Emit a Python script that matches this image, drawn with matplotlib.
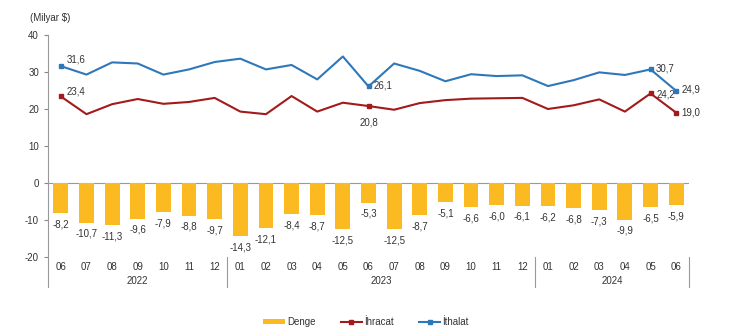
import matplotlib
matplotlib.use("Agg")
import matplotlib.pyplot as plt
from matplotlib.lines import Line2D
from matplotlib.patches import Patch

plt.rcParams['font.family'] = ['Liberation Sans', 'DejaVu Sans']
plt.rcParams['axes.unicode_minus'] = False

months = ["06", "07", "08", "09", "10", "11", "12",
          "01", "02", "03", "04", "05", "06", "07", "08", "09", "10", "11", "12",
          "01", "02", "03", "04", "05", "06"]
years = ["2022", "2023", "2024"]
year_spans = [(0, 6), (7, 18), (19, 24)]

denge = [-8.2, -10.7, -11.3, -9.6, -7.9, -8.8, -9.7,
         -14.3, -12.1, -8.4, -8.7, -12.5, -5.3, -12.5, -8.7, -5.1, -6.6, -6.0, -6.1,
         -6.2, -6.8, -7.3, -9.9, -6.5, -5.9]
ihracat = [23.4, 18.6, 21.3, 22.7, 21.4, 21.9, 23.0,
           19.3, 18.6, 23.5, 19.3, 21.7, 20.8, 19.8, 21.6, 22.4, 22.8, 22.9, 23.0,
           20.0, 21.0, 22.6, 19.3, 24.2, 19.0]
ithalat = [31.6, 29.3, 32.6, 32.3, 29.3, 30.7, 32.7,
           33.6, 30.7, 31.9, 28.0, 34.2, 26.1, 32.3, 30.3, 27.5, 29.4, 28.9, 29.1,
           26.2, 27.8, 29.9, 29.2, 30.7, 24.9]
labeled_idx = [0, 12, 23, 24]

c_bar = "#FBBA22"
c_red = "#A31A1A"
c_blue = "#2E78BA"
c_txt = "#333333"

fig = plt.figure(figsize=(7.3, 3.33), dpi=100)
ax = fig.add_axes([48/730, 1-257/333, (689-48)/730, (257-35)/333])

x = list(range(len(months)))
ax.bar(x, denge, width=0.58, color=c_bar, zorder=2)
ax.plot(x, ihracat, color=c_red, lw=1.5, zorder=3)
ax.plot(x, ithalat, color=c_blue, lw=1.5, zorder=3)
ax.plot([x[i] for i in labeled_idx], [ihracat[i] for i in labeled_idx], 's',
        color=c_red, ms=3.5, zorder=4)
ax.plot([x[i] for i in labeled_idx], [ithalat[i] for i in labeled_idx], 's',
        color=c_blue, ms=3.5, zorder=4)

fmt = lambda v: f"{v:.1f}".replace(".", ",")
fs = 7
for i, v in enumerate(denge):
    ax.annotate(fmt(v), (i, v), xytext=(0, -4.5), textcoords="offset points",
                ha="center", va="top", fontsize=fs, color=c_txt)

for i in labeled_idx:
    ax.annotate(fmt(ithalat[i]), (i, ithalat[i]), xytext=(4, 1), textcoords="offset points",
                ha="left", va="bottom" if i == 0 else "center", fontsize=fs, color=c_txt)
ax.annotate(fmt(ihracat[0]), (0, ihracat[0]), xytext=(4, 0), textcoords="offset points",
            ha="left", va="bottom", fontsize=fs, color=c_txt)
ax.annotate(fmt(ihracat[12]), (12, ihracat[12]), xytext=(0, -8), textcoords="offset points",
            ha="center", va="top", fontsize=fs, color=c_txt)
ax.annotate(fmt(ihracat[23]), (23, ihracat[23]), xytext=(4, -1), textcoords="offset points",
            ha="left", va="center", fontsize=fs, color=c_txt)
ax.annotate(fmt(ihracat[24]), (24, ihracat[24]), xytext=(4, 0), textcoords="offset points",
            ha="left", va="center", fontsize=fs, color=c_txt)

ax.set_xlim(-0.5, len(months) - 0.5)
ax.set_ylim(-20, 40)
ax.set_yticks([-20, -10, 0, 10, 20, 30, 40])
ax.tick_params(axis="y", labelsize=fs, colors="#888888", labelcolor=c_txt, length=3, width=0.8)
ax.set_xticks([])
for s in ["top", "right", "bottom"]:
    ax.spines[s].set_visible(False)
ax.spines["left"].set_color("#999999")
ax.spines["left"].set_bounds(-28.1, 40)
ax.axhline(0, color="#999999", lw=0.8, zorder=1)

for i, m in enumerate(months):
    ax.text(i, -22.6, m, ha="center", va="center", fontsize=fs, color=c_txt, clip_on=False)
for (a, b), yr in zip(year_spans, years):
    ax.text((a + b) / 2, -26.4, yr, ha="center", va="center", fontsize=fs, color=c_txt, clip_on=False)
for xs in [6.5, 18.5, 24.5]:
    ax.plot([xs, xs], [-20, -28.1], color="#999999", lw=0.8, clip_on=False)

fig.text(30/730, 1-18/333, "(Milyar $)", fontsize=fs, color=c_txt, ha="left", va="center")

handles = [Patch(facecolor=c_bar, edgecolor="none", label="Denge"),
           Line2D([0], [0], color=c_red, lw=1.5, marker="s", ms=3, label="İhracat"),
           Line2D([0], [0], color=c_blue, lw=1.5, marker="s", ms=3, label="İthalat")]
leg = fig.legend(handles=handles, loc="center", bbox_to_anchor=(366/730, 1-322/333),
                 ncol=3, frameon=False, fontsize=fs, handlelength=2.2, handleheight=0.4,
                 columnspacing=2.6, handletextpad=0.2)
for t in leg.get_texts():
    t.set_color(c_txt)

fig.savefig("out.png", dpi=100)
